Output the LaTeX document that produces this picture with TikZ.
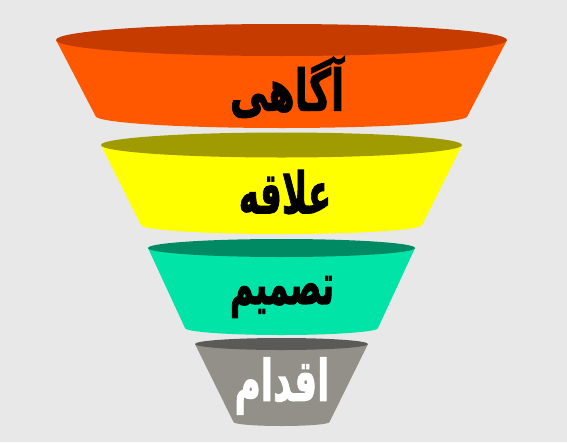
\documentclass[tikz,border=0pt]{standalone}
\usepackage{fontspec}
\newfontfamily\persianfont[Script=Arabic, FakeBold=2]{DejaVu Sans}
\TeXXeTstate=1
\usetikzlibrary{positioning,calc}

\definecolor{bgGray}{RGB}{232,232,232}
\definecolor{orangeBody}{RGB}{255,88,0}
\definecolor{orangeTop}{RGB}{198,60,0}
\definecolor{yellowBody}{RGB}{255,255,0}
\definecolor{yellowTop}{RGB}{160,155,0}
\definecolor{tealBody}{RGB}{0,228,168}
\definecolor{tealTop}{RGB}{0,138,100}
\definecolor{grayBody}{RGB}{146,144,136}
\definecolor{grayTop}{RGB}{90,90,86}

\begin{document}
\begin{tikzpicture}[x=1pt, y=-1pt,
    label/.style={font=\persianfont\bfseries\fontsize{38}{40}\selectfont, inner sep=0pt, yscale=1.5}]
        % Define dimensions
        \def\cx{281.5}

        % Background
        \fill[bgGray] (0,0) rectangle (567,442);
        \useasboundingbox (0,0) rectangle (567,442);

        % Draw layers: top y / top radii / bottom y / bottom radii / colours
        \foreach \ty/\rx/\ry/\by/\bw/\bry/\body/\top in {
            40/225.5/16/116/186/12/orangeBody/orangeTop,
            145/180.5/12.5/225/140.5/9/yellowBody/yellowTop,
            248/133.5/9/328/96.5/7/tealBody/tealTop,
            344/86.5/6/422/48/4/grayBody/grayTop}
        {
            \fill[\body] (\cx-\rx,\ty) -- (\cx-\bw,\by)
                arc[start angle=180, end angle=0, x radius=\bw, y radius=\bry]
                -- (\cx+\rx,\ty) -- cycle;
            \fill[\top] (\cx,\ty) ellipse[x radius=\rx, y radius=\ry];
        }

        % Label layers
        \node[label] (aware) at (287,87) {\beginR آگاهی\endR};
        \node[label, xscale=0.9] (interest) at (285,192) {\beginR علاقه\endR};
        \node[label, xscale=0.85] (decide) at (282,297) {\beginR تصمیم\endR};
        \node[label, xscale=0.94, white] (act) at (282,386) {\beginR اقدام\endR};
\end{tikzpicture}
\end{document}
